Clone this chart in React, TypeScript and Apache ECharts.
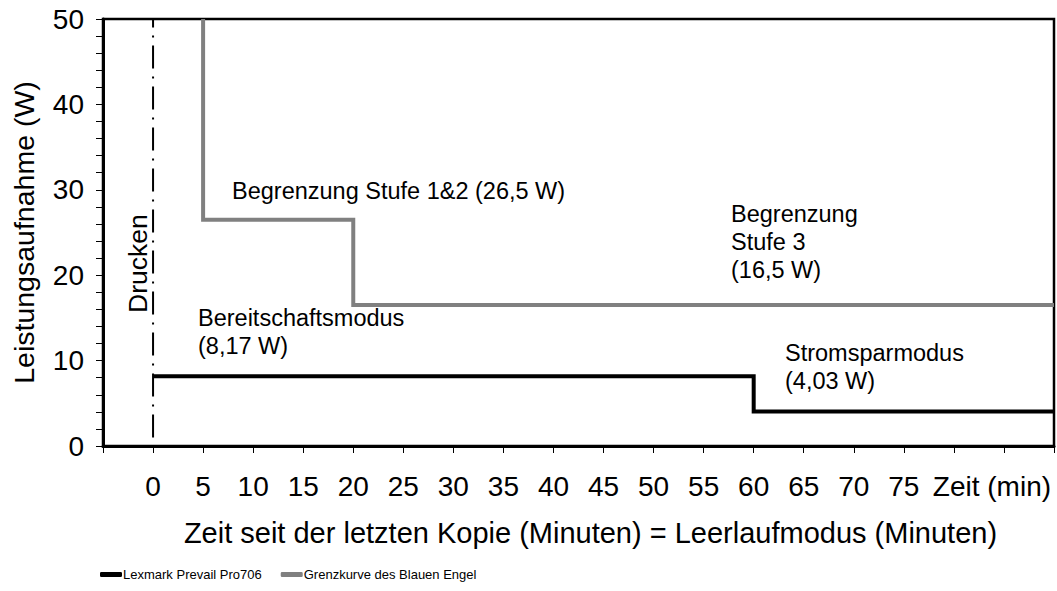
import React, { useEffect, useRef } from "react";
import * as echarts from "echarts";

const printX = [0, 0];
const printY = [1, 50];
const lexmarkX = [0, 60, 60, 90];
const lexmarkY = [8.17, 8.17, 4.03, 4.03];
const engelX = [5, 5, 20, 20, 90];
const engelY = [50, 26.5, 26.5, 16.5, 16.5];
const seriesNames = ["Lexmark Prevail Pro706", "Grenzkurve des Blauen Engel"];
const xAxisTitle = "Zeit seit der letzten Kopie (Minuten) = Leerlaufmodus (Minuten)";
const yAxisTitle = "Leistungsaufnahme (W)";
const xUnitLabel = "Zeit (min)";
const annotations = [
  { text: "Begrenzung Stufe 1&2 (26,5 W)", x: 232, y: 177 },
  { text: "Begrenzung\nStufe 3\n(16,5 W)", x: 731, y: 200 },
  { text: "Bereitschaftsmodus\n(8,17 W)", x: 198, y: 304 },
  { text: "Stromsparmodus\n(4,03 W)", x: 785, y: 339 },
];

const FONT = "'Liberation Sans', Arial, sans-serif";

function zip(xs: number[], ys: number[]) {
  return xs.map((x, i) => [x, ys[i]]);
}

export default function App() {
  const ref = useRef<HTMLDivElement>(null);
  useEffect(() => {
    const chart = echarts.init(ref.current!, undefined, { renderer: "svg" });
    chart.setOption({
      animation: false,
      backgroundColor: "#fff",
      textStyle: { fontFamily: FONT, color: "#000" },
      grid: {
        left: 103,
        right: 2,
        top: 19,
        bottom: 145,
        show: true,
        borderColor: "#000",
        borderWidth: 2.5,
      },
      legend: {
        data: seriesNames,
        left: 100,
        top: 568,
        padding: 0,
        itemWidth: 22,
        itemHeight: 5,
        itemGap: 19,
        icon: "roundRect",
        textStyle: { fontFamily: FONT, fontSize: 13, color: "#000", padding: [0, 0, 0, -4] },
      },
      xAxis: {
        type: "value",
        min: -5,
        max: 90,
        interval: 5,
        name: xAxisTitle,
        nameLocation: "middle",
        nameGap: 72,
        nameTextStyle: { fontSize: 29, color: "#000", fontFamily: FONT, padding: [0, 0, 0, 24] },
        axisLine: { show: true, onZero: false, lineStyle: { color: "#000", width: 3 } },
        axisTick: { show: true, length: 7, lineStyle: { color: "#000", width: 1 } },
        splitLine: { show: false },
        axisLabel: {
          margin: 26,
          fontSize: 28,
          color: "#000",
          fontFamily: FONT,
          formatter: (v: number) => {
            if (v === 85) return "{u|" + xUnitLabel + "}";
            if (v < 0 || v >= 80) return "";
            return String(v);
          },
          rich: {
            u: { fontSize: 28, color: "#000", fontFamily: FONT, padding: [0, 24, 0, 0] },
          },
        },
      },
      yAxis: {
        type: "value",
        min: 0,
        max: 50,
        interval: 10,
        name: yAxisTitle,
        nameLocation: "middle",
        nameGap: 65,
        nameTextStyle: { fontSize: 28.5, color: "#000", fontFamily: FONT },
        axisLine: { show: true, onZero: false, lineStyle: { color: "#000", width: 3 } },
        axisTick: { show: true, length: 7, lineStyle: { color: "#000", width: 1 } },
        minorTick: { show: true, splitNumber: 5, length: 7, lineStyle: { color: "#000", width: 1 } },
        splitLine: { show: false },
        axisLabel: { margin: 19, fontSize: 28, color: "#000", fontFamily: FONT },
      },
      series: [
        {
          name: "Drucken",
          type: "line",
          data: zip(printX, printY),
          showSymbol: false,
          symbol: "none",
          lineStyle: { color: "#000", width: 2, type: [23, 8, 2, 8] },
          z: 1,
          silent: true,
        },
        {
          name: seriesNames[1],
          type: "line",
          data: zip(engelX, engelY),
          showSymbol: false,
          symbol: "none",
          color: "#808080",
          lineStyle: { color: "#808080", width: 4, join: "miter" },
          z: 2,
        },
        {
          name: seriesNames[0],
          type: "line",
          data: zip(lexmarkX, lexmarkY),
          showSymbol: false,
          symbol: "none",
          color: "#000",
          lineStyle: { color: "#000", width: 4, join: "miter" },
          z: 3,
        },
      ],
      graphic: [
        ...annotations.map((a) => ({
          type: "text",
          x: a.x,
          y: a.y,
          style: {
            text: a.text,
            font: `23.5px ${FONT}`,
            fill: "#000",
            lineHeight: 28,
          },
        })),
        {
          type: "text",
          x: 124,
          y: 313,
          rotation: Math.PI / 2,
          style: { text: "Drucken", font: `26.5px ${FONT}`, fill: "#000" },
        },
      ],
    });
    return () => chart.dispose();
  }, []);
  return (
    <div
      ref={ref}
      style={{ position: "fixed", left: 0, top: 0, width: 1057, height: 591, background: "#fff" }}
    />
  );
}
